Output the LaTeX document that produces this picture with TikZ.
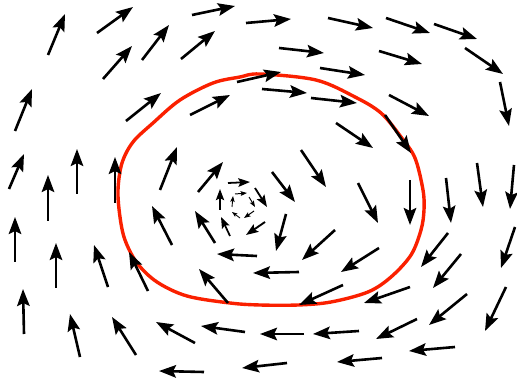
\documentclass[tikz,border=0pt]{standalone}
\usetikzlibrary{arrows.meta}
\definecolor{curvered}{RGB}{250,32,0}
\newcommand\qarrow[4]{%
  \pgfmathsetmacro\qs{min(1,veclen(#3-#1,#4-#2)/32)}%
  \pgfmathsetmacro\qlw{2.6*\qs}%
  \pgfmathsetmacro\qhl{17*\qs}%
  \pgfmathsetmacro\qhw{12.5*\qs}%
  \pgfmathsetmacro\qin{3.0*\qs}%
  \draw[line width=\qlw pt,-{Stealth[length=\qhl pt,width=\qhw pt,inset=\qin pt]}] (#1,#2) -- (#3,#4);}
\begin{document}
\begin{tikzpicture}[x=1pt,y=-1pt]
\useasboundingbox (0,0) rectangle (517,382);
\draw[curvered,line width=3.4pt] plot[smooth cycle,tension=0.55] coordinates {
(118,190) (120,217) (125,240) (137,263) (157,282) (187,296) (230,303) (260,305)
(298,305) (331,302) (368,292) (391,277) (411,255) (421,230) (424,210) (423,190)
(415,158) (401,137) (381,113) (355,97) (316,80) (260,74) (240,77) (213,83)
(180,100) (153,123) (133,142) (122,163)};
\foreach \a/\b/\c/\d in {
48/55/65/14, 97/33/133/7, 192/15/235/6, 246/23/291/19, 328/18/373/28,
386/18/430/33, 434/24/477/39, 103/79/132/46, 142/60/169/25, 181/59/215/31,
279/48/324/53, 379/51/422/64, 465/48/503/74, 15/131/32/89, 126/121/161/93,
190/115/230/95, 237/82/281/72, 320/68/365/75, 262/89/307/93, 311/98/357/103,
500/82/509/126, 389/95/429/116, 336/123/373/148, 385/115/411/153,
9/189/24/154, 48/221/48/175, 77/194/77/149, 115/203/115/157, 160/190/177/147,
198/192/223/162, 228/183/250/182, 301/150/326/187, 272/172/295/202,
358/183/378/223, 410/180/410/225, 446/178/451/223, 477/163/483/207,
514/165/510/209, 235/194/247/193, 255/188/267/207, 249/197/255/207,
220/210/220/189, 232/207/233/196, 240/218/232/212, 254/211/244/218,
265/222/246/235, 230/236/221/217, 286/214/276/251, 335/230/302/260,
379/248/341/272, 299/272/253/273, 343/285/299/305, 448/233/421/267,
461/254/433/288, 515/227/501/268, 410/287/364/303, 467/294/429/325,
506/287/485/331, 304/334/260/334, 359/331/313/334, 417/319/376/339,
455/347/409/351, 382/358/337/362, 287/363/242/368, 15/262/15/217,
172/245/152/206, 215/243/195/211, 56/288/56/243, 108/287/94/245,
148/291/129/252, 257/256/217/254, 228/303/199/269, 24/334/23/289,
80/357/70/314, 136/355/112/317, 195/343/156/322, 245/332/201/326,
204/372/159/371}
{\qarrow{\a}{\b}{\c}{\d}}
\end{tikzpicture}
\end{document}
